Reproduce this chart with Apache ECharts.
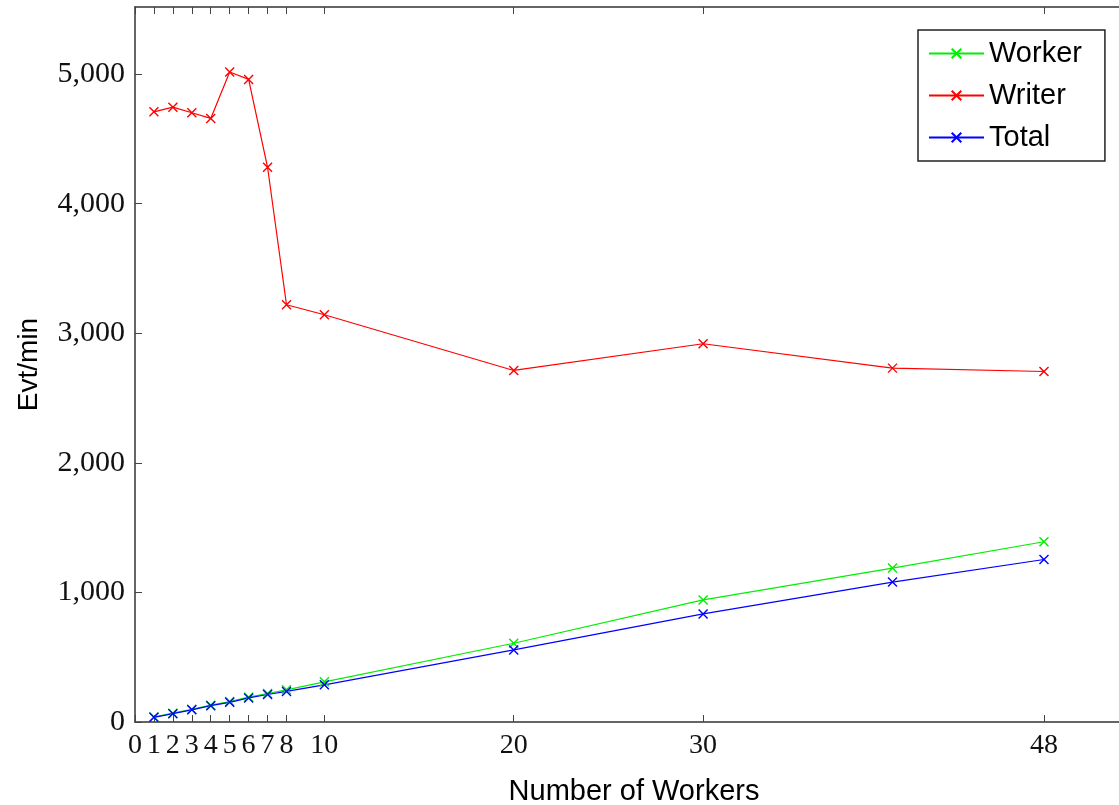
<!DOCTYPE html>
<html>
<head>
<meta charset="utf-8">
<script src="https://cdn.jsdelivr.net/npm/echarts@6/dist/echarts.min.js"></script>
<style>
html,body{margin:0;padding:0;background:#fff;}
#chart{width:1119px;height:805px;}
</style>
</head>
<body>
<div id="chart"></div>
<script>
const workers = [1, 2, 3, 4, 5, 6, 7, 8, 10, 20, 30, 40, 48];
const workerRate = [38, 68, 98, 130, 158, 192, 220, 248, 310, 608, 942, 1188, 1391];
const writerRate = [4709, 4745, 4702, 4658, 5016, 4959, 4281, 3220, 3143, 2713, 2919, 2731, 2705];
const totalRate = [36, 64, 94, 126, 152, 186, 212, 236, 287, 556, 834, 1080, 1254];
const xTicks = [0, 1, 2, 3, 4, 5, 6, 7, 8, 10, 20, 30, 48];
const seriesNames = ['Worker', 'Writer', 'Total'];
const seriesColors = ['#00ee00', '#ff0000', '#0000ff'];

const xMark = 'path://M0,0L10,10M10,0L0,10';
const serif = '"Liberation Serif", "DejaVu Serif", serif';
const sans = '"Liberation Sans", Arial, sans-serif';

function pairs(vals) { return workers.map((w, i) => [w, vals[i]]); }
function mk(name, vals, color) {
  return {
    name: name, type: 'line', data: pairs(vals),
    symbol: xMark, symbolSize: 9,
    color: color,
    lineStyle: { color: color, width: 1.2 },
    itemStyle: { color: color, borderColor: color, borderWidth: 1.4 },
    emphasis: { disabled: true },
    animation: false
  };
}

const chart = echarts.init(document.getElementById('chart'), null, { renderer: 'canvas' });
const axisLineStyle = { color: '#333', width: 1.5 };
const tickStyle = { color: '#444', width: 1 };
chart.setOption({
  backgroundColor: '#fff',
  animation: false,
  grid: { left: 135, top: 7, width: 998, height: 715, containLabel: false, outerBoundsMode: 'none' },
  legend: {
    orient: 'vertical', left: 918, top: 30,
    data: seriesNames,
    itemWidth: 55, itemHeight: 12, itemGap: 13,
    padding: [9, 23, 9, 10],
    borderColor: '#222', borderWidth: 1.5, backgroundColor: '#fff',
    textStyle: { fontFamily: sans, fontSize: 29, color: '#000' }
  },
  xAxis: [{
    type: 'value', min: 0, max: 52.7, position: 'bottom',
    name: 'Number of Workers', nameLocation: 'middle', nameGap: 55,
    nameTextStyle: { fontFamily: sans, fontSize: 29, color: '#000' },
    axisLine: { show: true, onZero: false, lineStyle: axisLineStyle },
    axisTick: { show: true, inside: true, length: 7, customValues: xTicks, lineStyle: tickStyle },
    axisLabel: { customValues: xTicks, fontFamily: serif, fontSize: 28, color: '#111', margin: 10 },
    splitLine: { show: false }
  }, {
    type: 'value', min: 0, max: 52.7, position: 'top',
    axisLine: { show: true, onZero: false, lineStyle: axisLineStyle },
    axisTick: { show: true, inside: true, length: 7, customValues: xTicks, lineStyle: tickStyle },
    axisLabel: { show: false },
    splitLine: { show: false }
  }],
  yAxis: [{
    type: 'value', min: 0, max: 5518, interval: 1000, position: 'left',
    name: 'Evt/min', nameLocation: 'middle', nameGap: 92, nameRotate: 90,
    nameTextStyle: { fontFamily: sans, fontSize: 28, color: '#000' },
    axisLine: { show: true, onZero: false, lineStyle: axisLineStyle },
    axisTick: { show: true, inside: true, length: 7, lineStyle: tickStyle },
    axisLabel: {
      fontFamily: serif, fontSize: 30, color: '#111', margin: 10,
      showMaxLabel: false,
      formatter: v => v.toLocaleString('en-US')
    },
    splitLine: { show: false }
  }, {
    type: 'value', min: 0, max: 5518, interval: 1000, position: 'right',
    axisLine: { show: true, onZero: false, lineStyle: axisLineStyle },
    axisTick: { show: true, inside: true, length: 7, lineStyle: tickStyle },
    axisLabel: { show: false },
    splitLine: { show: false }
  }],
  series: [
    mk(seriesNames[0], workerRate, seriesColors[0]),
    mk(seriesNames[1], writerRate, seriesColors[1]),
    mk(seriesNames[2], totalRate, seriesColors[2])
  ]
});
</script>
</body>
</html>
